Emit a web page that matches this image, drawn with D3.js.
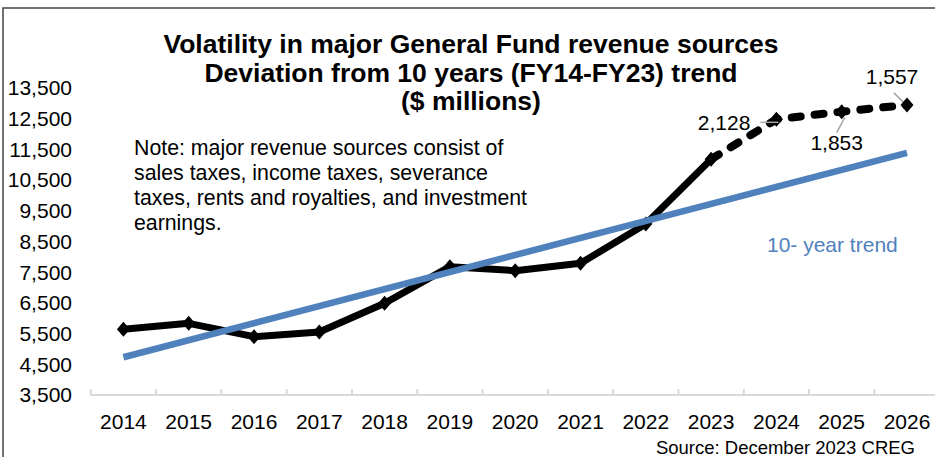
<!DOCTYPE html>
<html>
<head>
<meta charset="utf-8">
<script src="https://cdn.jsdelivr.net/npm/d3@7"></script>
<style>
  body { margin: 0; background: #fff; }
  svg { display: block; font-family: "Liberation Sans", Arial, sans-serif; }
</style>
</head>
<body>
<svg id="chart"></svg>
<script>
// Chart data
const years = ["2014", "2015", "2016", "2017", "2018", "2019", "2020",
  "2021", "2022", "2023", "2024", "2025", "2026"];
const actualYears = years.slice(0, 10);
const actualValues = [5640, 5835, 5400, 5550, 6490, 7680, 7550, 7790, 9070, 11180];
const forecastYears = ["2023", "2024", "2025", "2026"];
const forecastValues = [11180, 12480, 12730, 12950];
const trendYears = ["2014", "2026"];
const trendValues = [4730, 11390];
const deviationLabels = ["2,128", "1,853", "1,557"];
const yTicks = [3500, 4500, 5500, 6500, 7500, 8500, 9500, 10500, 11500, 12500, 13500];
const titleLines = [
  "Volatility in major General Fund revenue sources",
  "Deviation from 10 years (FY14-FY23) trend",
  "($ millions)"
];
const noteLines = [
  "Note: major revenue sources consist of",
  "sales taxes, income taxes, severance",
  "taxes, rents and royalties, and investment",
  "earnings."
];

const width = 935;
const height = 457;
const blue = "#4f81bd";

const svg = d3.select("#chart")
  .attr("width", width)
  .attr("height", height);

// outer frame (cut off at right and bottom)
svg.append("rect")
  .attr("x", 3).attr("y", 8)
  .attr("width", width + 10).attr("height", height + 10)
  .attr("fill", "none")
  .attr("stroke", "#444")
  .attr("stroke-width", 1.5);

const x = d3.scalePoint().domain(years).range([123.4, 907]);
const step = x.step();
const y = d3.scaleLinear().domain([3500, 13500]).range([395, 88]);

// title
svg.append("text")
  .attr("x", 471)
  .attr("y", 53)
  .attr("text-anchor", "middle")
  .style("font-size", "26.5px")
  .style("font-weight", "bold")
  .selectAll("tspan")
  .data(titleLines)
  .enter()
  .append("tspan")
  .attr("x", 471)
  .attr("dy", (d, i) => (i === 0 ? 0 : 28.5))
  .text((d) => d);

// y axis labels
svg.selectAll(".ytick")
  .data(yTicks)
  .enter()
  .append("text")
  .attr("class", "ytick")
  .attr("x", 72)
  .attr("y", (d) => y(d))
  .attr("dy", "0.35em")
  .attr("text-anchor", "end")
  .style("font-size", "21px")
  .text((d) => d3.format(",")(d));

// x axis line and tick marks between categories
svg.append("line")
  .attr("x1", x(years[0]) - step / 2)
  .attr("x2", x(years[years.length - 1]) + step / 2)
  .attr("y1", y(3500)).attr("y2", y(3500))
  .attr("stroke", "#d9d9d9")
  .attr("stroke-width", 2);

svg.selectAll(".xtickmark")
  .data(years.concat(["end"]))
  .enter()
  .append("line")
  .attr("x1", (d, i) => x(years[0]) - step / 2 + i * step)
  .attr("x2", (d, i) => x(years[0]) - step / 2 + i * step)
  .attr("y1", y(3500) - 6)
  .attr("y2", y(3500))
  .attr("stroke", "#d9d9d9")
  .attr("stroke-width", 2);

svg.selectAll(".xtick")
  .data(years)
  .enter()
  .append("text")
  .attr("class", "xtick")
  .attr("x", (d) => x(d))
  .attr("y", 429)
  .attr("text-anchor", "middle")
  .style("font-size", "21px")
  .text((d) => d);

// note
svg.append("text")
  .attr("x", 134)
  .attr("y", 155)
  .style("font-size", "21.3px")
  .selectAll("tspan")
  .data(noteLines)
  .enter()
  .append("tspan")
  .attr("x", 134)
  .attr("dy", (d, i) => (i === 0 ? 0 : 25))
  .text((d) => d);

// actual line (solid)
const line = d3.line()
  .x((d) => x(d[0]))
  .y((d) => y(d[1]));

const actual = actualYears.map((d, i) => [d, actualValues[i]]);
const forecast = forecastYears.map((d, i) => [d, forecastValues[i]]);
const trend = trendYears.map((d, i) => [d, trendValues[i]]);

svg.append("path")
  .datum(actual)
  .attr("d", line)
  .attr("fill", "none")
  .attr("stroke", "#000")
  .attr("stroke-width", 7)
  .attr("stroke-linejoin", "round");

svg.append("path")
  .datum(forecast)
  .attr("d", line)
  .attr("fill", "none")
  .attr("stroke", "#000")
  .attr("stroke-width", 8)
  .attr("stroke-linecap", "round")
  .attr("stroke-dasharray", "9,14");

// diamond markers (Excel style, nearly square)
const diamond = "M0,-7.5L6.5,0L0,7.5L-6.5,0Z";
svg.selectAll(".marker")
  .data(actual.concat(forecast.slice(1)))
  .enter()
  .append("path")
  .attr("class", "marker")
  .attr("d", diamond)
  .attr("transform", (d) => `translate(${x(d[0])},${y(d[1])})`)
  .attr("fill", "#000");

// trend line
svg.append("path")
  .datum(trend)
  .attr("d", line)
  .attr("fill", "none")
  .attr("stroke", blue)
  .attr("stroke-width", 6.5);

svg.append("text")
  .attr("x", 767)
  .attr("y", 252)
  .style("font-size", "21px")
  .style("fill", blue)
  .text("10- year trend");

// deviation labels with leader lines
const labelSpec = [
  { dx: -26, dy: 11, anchor: "end", lx1: -16, ly1: 3, lx2: 2, ly2: 3 },
  { dx: -5, dy: 38, anchor: "middle", lx1: -5, ly1: 21, lx2: 3, ly2: 6 },
  { dx: -15, dy: -21, anchor: "middle", lx1: -13, ly1: -12, lx2: -4, ly2: -3 }
];
const labelled = forecast.slice(1);

svg.selectAll(".leader")
  .data(labelled)
  .enter()
  .append("line")
  .attr("x1", (d, i) => x(d[0]) + labelSpec[i].lx1)
  .attr("y1", (d, i) => y(d[1]) + labelSpec[i].ly1)
  .attr("x2", (d, i) => x(d[0]) + labelSpec[i].lx2)
  .attr("y2", (d, i) => y(d[1]) + labelSpec[i].ly2)
  .attr("stroke", "#a6a6a6")
  .attr("stroke-width", 1.5);

svg.selectAll(".devlabel")
  .data(labelled)
  .enter()
  .append("text")
  .attr("class", "devlabel")
  .attr("x", (d, i) => x(d[0]) + labelSpec[i].dx)
  .attr("y", (d, i) => y(d[1]) + labelSpec[i].dy)
  .attr("text-anchor", (d, i) => labelSpec[i].anchor)
  .style("font-size", "21px")
  .text((d, i) => deviationLabels[i]);

// source
svg.append("text")
  .attr("x", 915)
  .attr("y", 454)
  .attr("text-anchor", "end")
  .style("font-size", "18.5px")
  .text("Source: December 2023 CREG");
</script>
</body>
</html>
